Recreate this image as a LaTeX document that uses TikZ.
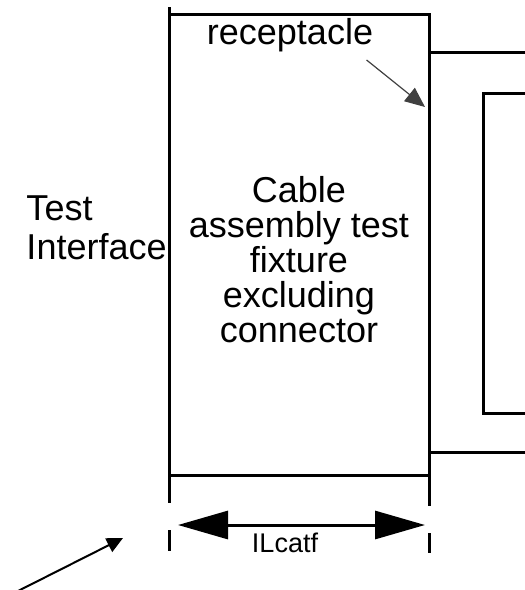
\documentclass[tikz,border=0pt]{standalone}
\usepackage{fontspec}
\setmainfont{Liberation Sans}
\usetikzlibrary{arrows.meta}
\begin{document}
\begin{tikzpicture}[x=1pt,y=-1pt,line width=3pt,
    lbl/.style={inner sep=0pt,font=\fontsize{36}{35}\selectfont},
    dimarrow/.style={{Triangle[length=50pt,width=28pt]}-{Triangle[length=50pt,width=28pt]}}]
        \useasboundingbox (0,0) rectangle (525,590);
        % fixture
        \draw (169,7) -- (169,503);
        \draw (169,14) -- (429,14) -- (429,506);
        \draw (169,475) -- (429,475);
        \draw (169,530) -- (169,551);
        \draw (429,533) -- (429,553);
        % receptacle side
        \draw (429,52) -- (525,52);
        \draw (429,452) -- (525,452);
        \draw (525,93) -- (483,93) -- (483,413) -- (525,413);
        % texts
        \node[lbl, anchor=base] (rec) at (290,44) {receptacle};
        \node[lbl, anchor=base, align=center] (fixture) at (299,342) {Cable\\assembly test\\fixture\\excluding\\connector};
        \node[lbl, anchor=base west, align=left, font=\fontsize{36}{39}\selectfont] (iface) at (25,259) {Test\\Interface};
        \node[inner sep=0pt, anchor=base, font=\fontsize{27}{27}\selectfont] (ilcatf) at (285,552) {ILcatf};
        % arrows
        \coordinate (recend) at (425,107);
        \draw[line width=1.2pt, black!75, -{Triangle[length=20pt,width=17pt]}] ([shift={(-8,7)}]rec.south east) -- (recend);
        \coordinate (dimleft) at (178,525);
        \coordinate (dimright) at (425,525);
        \draw[dimarrow] (dimleft) -- (dimright);
        \coordinate (ptail) at (18,591);
        \coordinate (phead) at (123,538);
        \draw[line width=2pt, -{Triangle[length=16pt,width=15pt]}] (ptail) -- (phead);
\end{tikzpicture}
\end{document}
